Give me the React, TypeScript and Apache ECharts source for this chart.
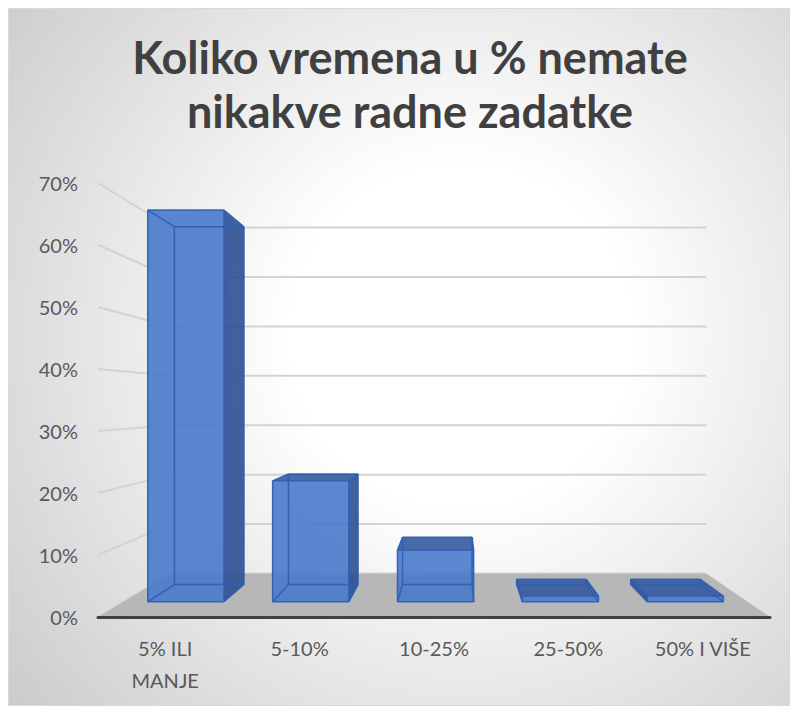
import React, { useEffect, useRef } from 'react';
import * as echarts from 'echarts';

// ---- data ----
const categories = ['5% ILI MANJE', '5-10%', '10-25%', '25-50%', '50% I VIŠE'];
const values = [68, 21, 9, 1, 1];
const yTicks = [0, 10, 20, 30, 40, 50, 60, 70];
const titleLines = ['Koliko vremena u % nemate', 'nikakve radne zadatke'];

// ---- layout / style ----
const W = 782;
const H = 698;
const VX = 448; // vanishing point (chart px)
const VY = 394.5;
const K = 0.2547; // perspective depth factor
const Z_BAR_FRONT = 0.3;
const Z_BAR_BACK = 0.7;
const BAR_RATIO = 0.61;
const FRONT = 'rgba(73,122,203,0.9)';
const SIDE = 'rgba(46,79,144,0.9)';
const TOP = 'rgba(54,89,160,0.9)';
const EDGE = 'rgba(46,95,181,0.95)';
const GRID = '#d3d3d3';
const FLOOR = '#b7b7b7';
const FONT = 'Lato, "Open Sans", sans-serif';

function proj(x: number, y: number, z: number): number[] {
  const s = 1 / (1 + K * z);
  return [VX + (x - VX) * s, VY + (y - VY) * s];
}

export default function App() {
  const ref = useRef<HTMLDivElement>(null);

  useEffect(() => {
    if (!ref.current) return;
    const chart = echarts.init(ref.current, null, { renderer: 'svg' });

    const option: any = {
      animation: false,
      title: {
        text: titleLines.join('\n'),
        left: 397,
        top: 17,
        textAlign: 'center',
        textStyle: {
          fontFamily: FONT,
          fontSize: 45,
          fontWeight: 'bold',
          color: '#404040',
          lineHeight: 54,
        },
      },
      graphic: [
        {
          type: 'rect',
          shape: { x: 0.5, y: 0.5, width: W - 1, height: H - 1 },
          style: { fill: 'none', stroke: '#d9d9d9', lineWidth: 1 },
          silent: true,
        },
      ],
      grid: { left: 90, right: 20, top: 175, bottom: 89 },
      xAxis: {
        type: 'category',
        data: categories,
        z: 10,
        axisLine: { show: true, lineStyle: { color: '#404040', width: 3 } },
        axisTick: { show: false },
        axisLabel: {
          fontFamily: FONT,
          fontSize: 20,
          color: '#595959',
          lineHeight: 32,
          margin: 15,
          formatter: (v: string) => v.replace('ILI ', 'ILI\n'),
        },
        splitLine: { show: false },
      },
      yAxis: {
        type: 'value',
        min: 0,
        max: 70,
        interval: 10,
        axisLine: { show: false },
        axisTick: { show: false },
        splitLine: { show: false },
        axisLabel: {
          fontFamily: FONT,
          fontSize: 20,
          color: '#595959',
          margin: 20,
          formatter: '{value}%',
        },
      },
      series: [
        {
          type: 'custom',
          name: 'grid',
          z: 1,
          silent: true,
          data: yTicks.map((v) => [0, v]),
          renderItem: (params: any, api: any) => {
            const cs = params.coordSys;
            const y = api.coord([0, api.value(1)])[1];
            const l = cs.x;
            const r = cs.x + cs.width;
            return {
              type: 'polyline',
              shape: { points: [proj(l, y, 0), proj(l, y, 1), proj(r, y, 1)] },
              style: { stroke: GRID, lineWidth: 2, fill: 'none' },
            };
          },
        },
        {
          type: 'custom',
          name: 'floor',
          z: 2,
          silent: true,
          data: [[0, 0]],
          renderItem: (params: any, api: any) => {
            const cs = params.coordSys;
            const y = api.coord([0, api.value(1)])[1];
            const l = cs.x;
            const r = cs.x + cs.width;
            return {
              type: 'polygon',
              shape: { points: [proj(l, y, 0), proj(r, y, 0), proj(r, y, 1), proj(l, y, 1)] },
              style: { fill: FLOOR, stroke: 'none' },
            };
          },
        },
        {
          type: 'custom',
          name: 'bars',
          z: 3,
          data: values.map((v, i) => [i, v]),
          renderItem: (params: any, api: any) => {
            const idx = api.value(0);
            const v = api.value(1);
            const b = api.coord([idx, 0]);
            const t = api.coord([idx, v]);
            const hw = (api.size([1, 0])[0] * BAR_RATIO) / 2;
            const xl = b[0] - hw;
            const xr = b[0] + hw;
            const yb = b[1];
            const yt = t[1];
            const zf = Z_BAR_FRONT;
            const zb = Z_BAR_BACK;
            const FLB = proj(xl, yb, zf), FRB = proj(xr, yb, zf), FRT = proj(xr, yt, zf), FLT = proj(xl, yt, zf);
            const BLB = proj(xl, yb, zb), BRB = proj(xr, yb, zb), BRT = proj(xr, yt, zb), BLT = proj(xl, yt, zb);
            const children: any[] = [];
            const face = (pts: number[][], fill: string) => ({
              type: 'polygon',
              shape: { points: pts },
              style: { fill, stroke: 'none' },
            });
            if (xr < VX) children.push(face([FRB, BRB, BRT, FRT], SIDE));
            if (xl > VX) children.push(face([FLB, BLB, BLT, FLT], SIDE));
            if (yt > VY) children.push(face([FLT, FRT, BRT, BLT], TOP));
            children.push(face([FLB, FRB, FRT, FLT], FRONT));
            const edges = [
              [FLB, FRB], [FRB, FRT], [FRT, FLT], [FLT, FLB],
              [BLB, BRB], [BRB, BRT], [BRT, BLT], [BLT, BLB],
              [FLB, BLB], [FRB, BRB], [FRT, BRT], [FLT, BLT],
            ];
            edges.forEach((e) =>
              children.push({
                type: 'line',
                shape: { x1: e[0][0], y1: e[0][1], x2: e[1][0], y2: e[1][1] },
                style: { stroke: EDGE, lineWidth: 1.5 },
              })
            );
            return { type: 'group', children };
          },
        },
      ],
    };

    chart.setOption(option);
    return () => chart.dispose();
  }, []);

  return (
    <div
      style={{
        width: W,
        height: H,
        background:
          'radial-gradient(circle 600px at 58% 47%, #ffffff 0px, #ffffff 170px, #c9c9c9 600px)',
      }}
    >
      <div ref={ref} style={{ width: W, height: H }} />
    </div>
  );
}
